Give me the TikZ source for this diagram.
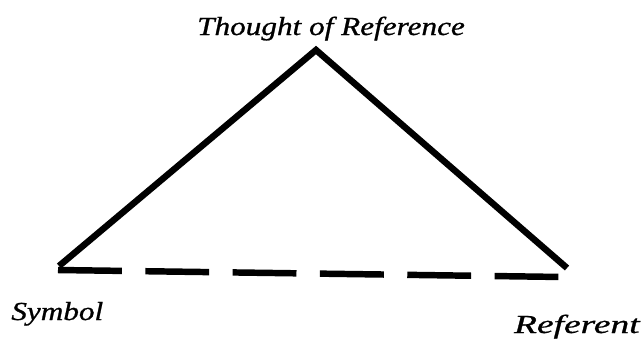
\documentclass[tikz,border=0pt]{standalone}
\usepackage{fontspec}
\setmainfont{Liberation Serif}
\newfontfamily\lblfont[FakeBold=0.8]{Liberation Serif}
\usepackage{tikz}
\usetikzlibrary{positioning}

\begin{document}
\begin{tikzpicture}[x=0.025cm, y=-0.025cm,
  lbl/.style={font=\fontsize{18.5}{20}\lblfont\itshape, inner sep=0pt,
              xscale=1.2, transform shape},
  side/.style={line width=4.6pt, line join=miter},
  link/.style={line width=4.6pt, dash pattern=on 45.4pt off 16.7pt}]
  \useasboundingbox (0,0) rectangle (643,338);
  \coordinate (th) at (316,50);
  \coordinate (sy) at (59,266);
  \coordinate (re) at (567,268);
  \coordinate (syl) at (58,270);
  \coordinate (rel) at (563,277);
  \node[lbl, anchor=base] (tl) at (331,35) {Thought of Reference};
  \node[lbl, anchor=base west] (sl) at (11,320) {Symbol};
  \node[lbl, anchor=base east, xscale=1.2] (rl) at (640,333) {Referent};
  \draw[side] (sy) -- (th) -- (re);
  \draw[link] (syl) -- (rel);
\end{tikzpicture}
\end{document}
